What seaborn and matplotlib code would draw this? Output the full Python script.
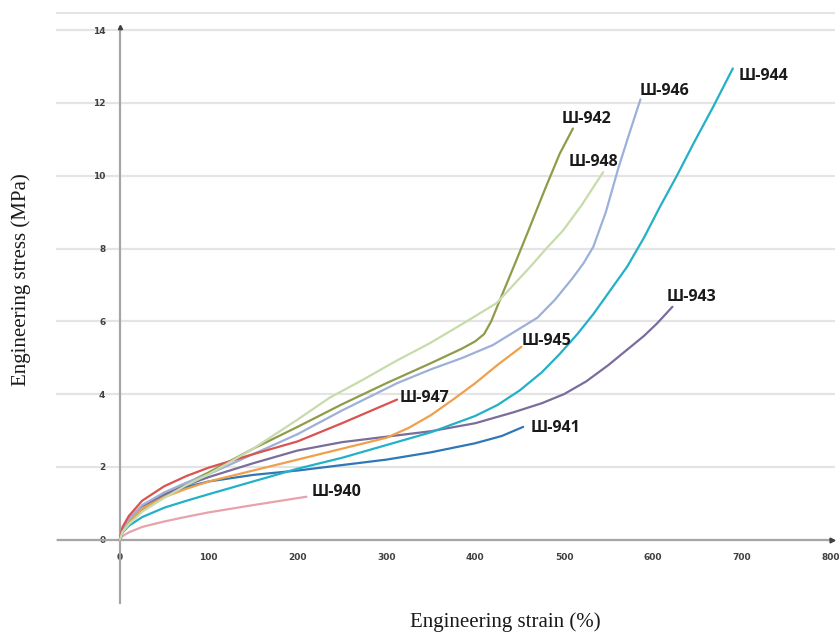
import matplotlib
matplotlib.use("Agg")
import matplotlib.pyplot as plt
import seaborn as sns
import pandas as pd

# ---- data (strain %, stress MPa) ----
s940_x = [0, 3, 10, 25, 50, 75, 100, 150, 210]
s940_y = [0, 0.1, 0.2, 0.35, 0.5, 0.63, 0.75, 0.95, 1.18]

s941_x = [0, 3, 10, 25, 50, 75, 100, 150, 200, 250, 300, 350, 400, 430, 454]
s941_y = [0, 0.3, 0.55, 0.9, 1.22, 1.45, 1.6, 1.78, 1.9, 2.05, 2.2, 2.4, 2.65, 2.85, 3.1]

s942_x = [0, 3, 10, 25, 50, 75, 100, 150, 200, 250, 300, 350, 385, 400, 410, 418, 428, 445, 460, 478, 495, 510]
s942_y = [0, 0.25, 0.5, 0.82, 1.2, 1.55, 1.85, 2.5, 3.1, 3.72, 4.3, 4.85, 5.25, 5.45, 5.65, 6.0, 6.6, 7.6, 8.5, 9.6, 10.6, 11.3]

s943_x = [0, 3, 10, 25, 50, 75, 100, 150, 200, 250, 300, 350, 400, 443, 475, 500, 525, 550, 570, 590, 605, 622]
s943_y = [0, 0.3, 0.58, 0.92, 1.25, 1.5, 1.72, 2.1, 2.45, 2.68, 2.83, 2.98, 3.2, 3.5, 3.75, 4.0, 4.35, 4.8, 5.2, 5.6, 5.95, 6.4]

s944_x = [0, 3, 10, 25, 50, 75, 100, 150, 200, 250, 300, 350, 400, 425, 450, 475, 495, 515, 533, 552, 571, 590, 608, 627, 646, 668, 690]
s944_y = [0, 0.2, 0.38, 0.62, 0.88, 1.07, 1.25, 1.6, 1.95, 2.25, 2.6, 2.95, 3.4, 3.7, 4.1, 4.6, 5.1, 5.65, 6.2, 6.85, 7.5, 8.3, 9.15, 10.0, 10.9, 11.9, 12.95]

s945_x = [0, 3, 10, 25, 50, 75, 100, 150, 200, 250, 300, 325, 350, 375, 400, 425, 452]
s945_y = [0, 0.28, 0.52, 0.86, 1.17, 1.4, 1.6, 1.9, 2.2, 2.5, 2.8, 3.07, 3.42, 3.85, 4.3, 4.8, 5.3]

s946_x = [0, 3, 10, 25, 50, 75, 100, 150, 200, 250, 312, 350, 386, 420, 450, 470, 490, 510, 522, 533, 547, 561, 574, 586]
s946_y = [0, 0.3, 0.57, 0.95, 1.3, 1.57, 1.8, 2.35, 2.9, 3.55, 4.3, 4.68, 5.0, 5.35, 5.8, 6.1, 6.6, 7.2, 7.6, 8.05, 9.0, 10.2, 11.2, 12.1]

s947_x = [0, 3, 10, 25, 50, 75, 100, 150, 200, 250, 312]
s947_y = [0, 0.35, 0.65, 1.07, 1.47, 1.75, 1.98, 2.35, 2.7, 3.2, 3.85]

s948_x = [0, 3, 10, 25, 50, 75, 100, 150, 200, 236, 274, 310, 349, 387, 424, 443, 462, 480, 499, 520, 544]
s948_y = [0, 0.22, 0.42, 0.77, 1.15, 1.5, 1.8, 2.5, 3.3, 3.9, 4.4, 4.9, 5.4, 5.95, 6.5, 7.0, 7.5, 8.0, 8.5, 9.2, 10.1]

names = ["Ш-940", "Ш-941", "Ш-942", "Ш-943", "Ш-944", "Ш-945", "Ш-946", "Ш-947", "Ш-948"]
colors = ["#e8a2ab", "#2f78b8", "#8e9c4a", "#7b6c9c", "#22b1c6", "#f0a04c", "#9cb0d9", "#d9534f", "#c7dbab"]
label_x = [216, 462, 497, 616, 696, 452, 585, 315, 505]
label_y = [1.32, 3.08, 11.57, 6.68, 12.75, 5.47, 12.34, 3.9, 10.38]

xticks = [0, 100, 200, 300, 400, 500, 600, 700, 800]
yticks = [0, 2, 4, 6, 8, 10, 12, 14]

series = [(s940_x, s940_y), (s941_x, s941_y), (s942_x, s942_y), (s943_x, s943_y),
          (s944_x, s944_y), (s945_x, s945_y), (s946_x, s946_y), (s947_x, s947_y),
          (s948_x, s948_y)]

frames = []
for n, (xs, ys) in zip(names, series):
    frames.append(pd.DataFrame({"strain": xs, "stress": ys, "sample": n}))
df = pd.concat(frames, ignore_index=True)

sns.set_style("white")
fig = plt.figure(figsize=(8.39, 6.36), dpi=100)
ax = fig.add_axes([0.0667, 0.0456, 0.9285, 0.9355])

# grid lines
for yv in yticks:
    ax.axhline(yv, color="#e4e4e4", lw=1.6, zorder=0)
ax.axhline(14.47, color="#e4e4e4", lw=1.6, zorder=0)

sns.lineplot(data=df, x="strain", y="stress", hue="sample", palette=dict(zip(names, colors)),
             estimator=None, sort=False, units="sample", lw=1.6, legend=False, ax=ax)

ax.set_xlim(-72, 805)
ax.set_ylim(-1.85, 14.5)

for sp in ["top", "right"]:
    ax.spines[sp].set_visible(False)
ax.spines["left"].set_position(("data", 0))
ax.spines["bottom"].set_position(("data", 0))
for sp in ["left", "bottom"]:
    ax.spines[sp].set_color("#a6a6a6")
    ax.spines[sp].set_linewidth(1.6)
    ax.spines[sp].set_zorder(1)
ax.spines["left"].set_bounds(-1.75, 14.1)
ax.spines["bottom"].set_bounds(-70, 802)

ax.set_xticks(xticks)
ax.set_yticks(yticks)
ax.set_xticklabels([str(v) for v in xticks], fontsize=6.5, fontweight="bold", color="#404040")
ax.set_yticklabels([str(v) for v in yticks], fontsize=6.5, fontweight="bold", color="#404040")
ax.tick_params(axis="x", length=3, width=1, color="#c8c8c8", direction="inout", pad=8)
ax.tick_params(axis="y", length=3, width=1, color="#c8c8c8", direction="inout", pad=9)
ax.set_xlabel("")
ax.set_ylabel("")

# small arrow heads at axis ends
ax.plot([802], [0], marker=">", ms=3.5, color="#404040", clip_on=False)
ax.plot([0], [14.1], marker="^", ms=3.0, color="#404040", clip_on=False)

for n, c, lx, ly in zip(names, colors, label_x, label_y):
    ax.text(lx, ly, n, fontsize=11.5, fontweight="bold", color="#1a1a1a",
            ha="left", va="center", family=["Open Sans", "DejaVu Sans"])

fig.text(0.025, 0.56, "Engineering stress (MPa)", rotation=90, ha="center", va="center",
         fontsize=15, family="Liberation Serif", color="#1a1a1a")
fig.text(0.602, 0.022, "Engineering strain (%)", ha="center", va="center",
         fontsize=15, family="Liberation Serif", color="#1a1a1a")

fig.savefig("out.png", dpi=100, facecolor="white")
